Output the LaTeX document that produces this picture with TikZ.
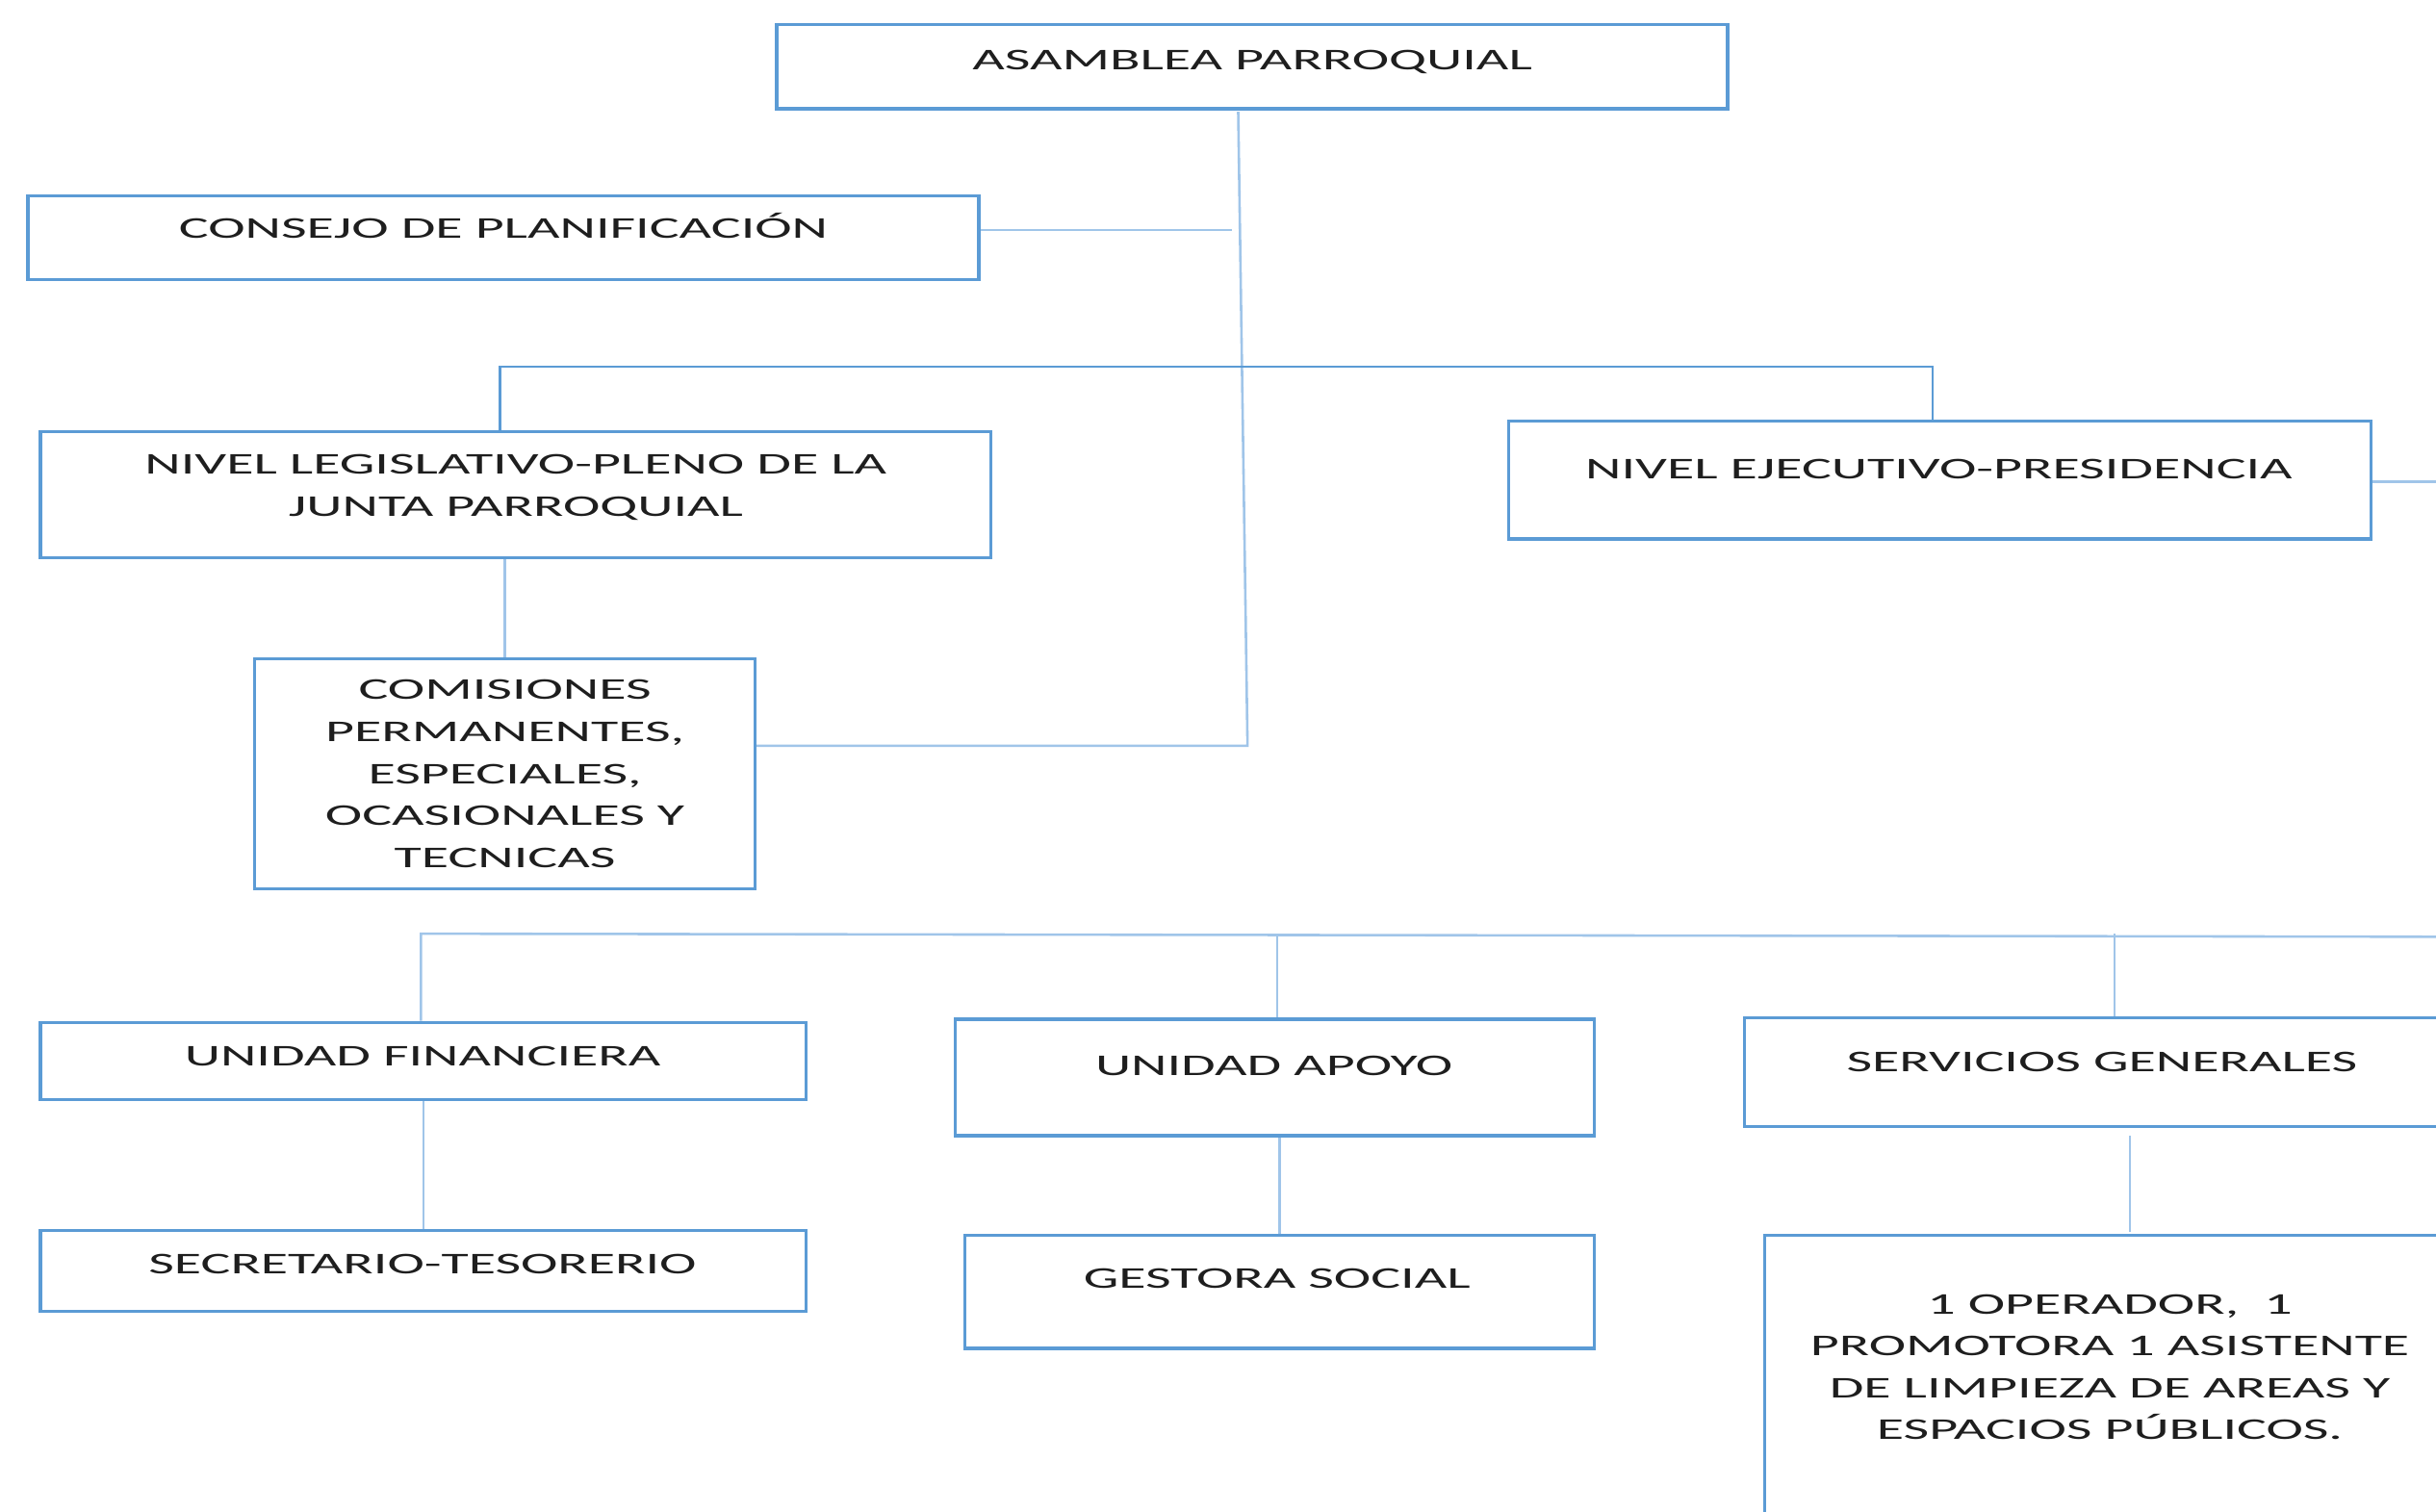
\documentclass[tikz,border=0pt]{standalone}
\usepackage{fontspec}
\newfontfamily\orgfont[FakeStretch=1.85]{Carlito}
\definecolor{boxblue}{RGB}{91,155,213}
\definecolor{connblue}{RGB}{160,197,233}
\definecolor{textgray}{RGB}{30,30,30}
\begin{document}
\begin{tikzpicture}[x=1pt,y=-1pt,
  box/.style={draw=boxblue, line width=2pt, fill=white, inner sep=0pt},
  txt/.style={font=\orgfont\fontsize{19.4}{27}\selectfont, align=center, inner sep=0pt,
              text=textgray, anchor=north, execute at begin node=\strut},
  conn/.style={draw=connblue, line width=1.6pt},
  bus/.style={draw=boxblue, line width=1.6pt}]
\useasboundingbox (0,0) rectangle (1568,973);
\clip (0,0) rectangle (1568,973);
\fill[white] (0,0) rectangle (1568,973);

% boxes
\node[box, minimum width=612pt, minimum height=54pt]  (asm)  at (806,43) {};
\node[box, minimum width=612pt, minimum height=54pt]  (cons) at (324,153) {};
\node[box, minimum width=612pt, minimum height=81pt]  (leg)  at (332,318.5) {};
\node[box, minimum width=555pt, minimum height=76pt]  (eje)  at (1248.5,309) {};
\node[box, minimum width=322pt, minimum height=148pt] (com)  at (325,498) {};
\node[box, minimum width=493pt, minimum height=50pt]  (fin)  at (272.5,683) {};
\node[box, minimum width=493pt, minimum height=52pt]  (sec)  at (272.5,818) {};
\node[box, minimum width=411pt, minimum height=75pt]  (apo)  at (820.5,693.5) {};
\node[box, minimum width=405pt, minimum height=73pt]  (ges)  at (823.5,831.5) {};
\node[box, minimum width=457pt, minimum height=70pt]  (ser)  at (1351.5,690) {};
\node[box, minimum width=444pt, minimum height=195pt] (ope)  at (1358,892.5) {};

% texts
\node[txt] (asmT)  at (806,26)      {ASAMBLEA PARROQUIAL};
\node[txt] (consT) at (324,134)     {CONSEJO DE PLANIFICACIÓN};
\node[txt] (legT)  at (332,292.5)   {NIVEL LEGISLATIVO-PLENO DE LA\\JUNTA PARROQUIAL};
\node[txt] (ejeT)  at (1248,289)    {NIVEL EJECUTIVO-PRESIDENCIA};
\node[txt] (comT)  at (325,437.5)   {COMISIONES\\PERMANENTES,\\ESPECIALES,\\OCASIONALES Y\\TECNICAS};
\node[txt] (finT)  at (272,667)     {UNIDAD FINANCIERA};
\node[txt] (secT)  at (272,801)     {SECRETARIO-TESORERIO};
\node[txt] (apoT)  at (820,673)     {UNIDAD APOYO};
\node[txt] (gesT)  at (822,810)     {GESTORA SOCIAL};
\node[txt] (serT)  at (1353,671)    {SERVICIOS GENERALES};
\node[txt] (opeT)  at (1358,833)    {1 OPERADOR,\ \ 1\\PROMOTORA 1 ASISTENTE\\DE LIMPIEZA DE AREAS Y\\ESPACIOS PÚBLICOS.};

% junction coordinates
\coordinate (a0) at (797,72);
\coordinate (a1) at (803,480);
\coordinate (c1) at (793,148);
\coordinate (b1) at (322,236);
\coordinate (b2) at (1244,236);
\coordinate (e1) at (1580,310);
\coordinate (d1) at (271,601);
\coordinate (d2) at (822,601);
\coordinate (d3) at (1361,601);
\coordinate (d4) at (1580,603);
\coordinate (s1) at (1371,731);
\coordinate (s2) at (1371,793);

% connectors
\draw[conn] (a0) -- (a1) -- (com.east |- a1);
\draw[conn] (cons.east |- c1) -- (c1);
\draw[bus]  (leg.north -| b1) -- (b1) -- (b2) -- (eje.north -| b2);
\draw[conn] (leg.south -| com.north) -- (com.north);
\draw[conn] (eje.east |- e1) -- (e1);
\draw[conn] (fin.north -| d1) -- (d1) -- (d4);
\draw[conn] (apo.north -| d2) -- (d2);
\draw[conn] (ser.north -| d3) -- (d3);
\draw[conn] (fin.south) -- (sec.north);
\draw[conn] (apo.south -| ges.north) -- (ges.north);
\draw[conn] (s1) -- (s2);
\end{tikzpicture}
\end{document}
